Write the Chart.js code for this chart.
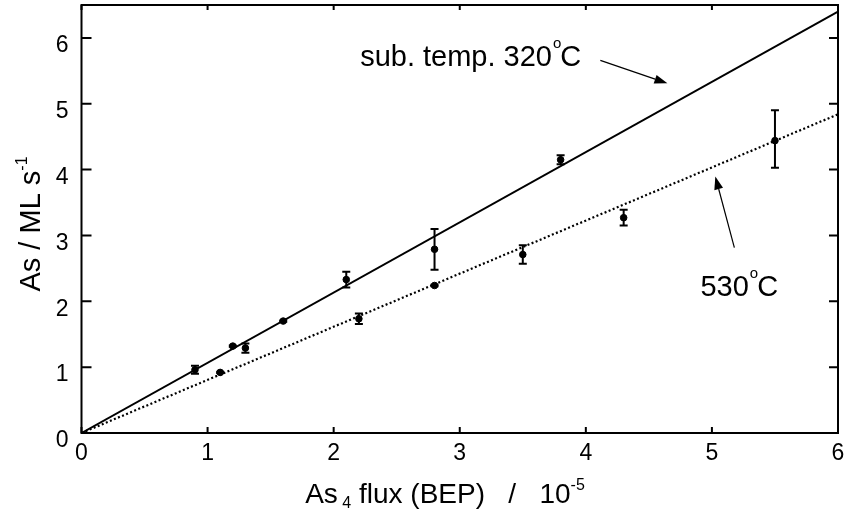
<!DOCTYPE html>
<html><head><meta charset="utf-8">
<script src="https://cdn.jsdelivr.net/npm/chart.js@4/dist/chart.umd.min.js"></script>
<style>html,body{margin:0;padding:0;background:#fff}</style>
</head><body>
<canvas id="c" width="846" height="511"></canvas>
<script>
// ---- data ----
const xTicks = [0, 1, 2, 3, 4, 5, 6];
const yTicks = [0, 1, 2, 3, 4, 5, 6];
const flux320 = [0.9, 1.2, 1.3, 1.6, 2.1, 2.8, 3.8];
const rate320 = [0.96, 1.32, 1.29, 1.70, 2.33, 2.79, 4.15];
const errMinus320 = [0.06, 0.01, 0.07, 0.01, 0.12, 0.31, 0.07];
const errPlus320  = [0.06, 0.01, 0.07, 0.01, 0.12, 0.31, 0.07];
const flux530 = [1.1, 2.2, 2.8, 3.5, 4.3, 5.5];
const rate530 = [0.92, 1.735, 2.24, 2.71, 3.27, 4.44];
const errMinus530 = [0.01, 0.08, 0.01, 0.14, 0.12, 0.41];
const errPlus530  = [0.01, 0.08, 0.01, 0.14, 0.12, 0.46];
const fitFlux = [0, 6];
const fit320 = [0, 6.40];
const fit530 = [0, 4.84];
const label320 = 'sub. temp. 320';
const label530 = '530';

// ---- annotation placement (data units) ----
const notes = {
  t320: {x: 2.21, y: 5.57},
  t530: {x: 4.909, y: 2.085},
  a320: {x0: 4.115, y0: 5.66, x1: 4.647, y1: 5.31},
  a530: {x0: 5.178, y0: 2.816, x1: 5.027, y1: 3.896}
};

const FONT = '"Liberation Sans", Arial, Helvetica, sans-serif';
const pts = (xs, ys) => xs.map((x, i) => ({x: x, y: ys[i]}));

const errorBars = {
  id: 'errorBars',
  afterDatasetsDraw(chart) {
    const ctx = chart.ctx, xs = chart.scales.x, ys = chart.scales.y;
    ctx.save();
    ctx.strokeStyle = '#000';
    ctx.lineWidth = 2;
    chart.data.datasets.forEach(ds => {
      if (!ds.errMinus) return;
      ds.data.forEach((p, i) => {
        const px = xs.getPixelForValue(p.x);
        const top = ys.getPixelForValue(p.y + ds.errPlus[i]);
        const bot = ys.getPixelForValue(p.y - ds.errMinus[i]);
        ctx.beginPath();
        ctx.moveTo(px, top); ctx.lineTo(px, bot);
        ctx.moveTo(px - 4, top); ctx.lineTo(px + 4, top);
        ctx.moveTo(px - 4, bot); ctx.lineTo(px + 4, bot);
        ctx.stroke();
      });
    });
    ctx.restore();
  }
};

function arrow(ctx, x0, y0, x1, y1) {
  const ang = Math.atan2(y1 - y0, x1 - x0);
  const L = 13, W = 4.5;
  const bx = x1 - L * Math.cos(ang), by = y1 - L * Math.sin(ang);
  ctx.beginPath();
  ctx.moveTo(x0, y0); ctx.lineTo(bx, by); ctx.stroke();
  ctx.beginPath();
  ctx.moveTo(x1, y1);
  ctx.lineTo(bx + W * Math.sin(ang), by - W * Math.cos(ang));
  ctx.lineTo(bx - W * Math.sin(ang), by + W * Math.cos(ang));
  ctx.closePath(); ctx.fill();
}

function degText(ctx, txt, x, y, size) {
  ctx.font = size + 'px ' + FONT;
  ctx.textBaseline = 'alphabetic';
  ctx.textAlign = 'left';
  ctx.fillText(txt, x, y);
  let w = ctx.measureText(txt).width;
  ctx.font = Math.round(size * 0.5) + 'px ' + FONT;
  ctx.fillText('o', x + w + 1, y - size * 0.62);
  const ow = ctx.measureText('o').width;
  ctx.font = size + 'px ' + FONT;
  ctx.fillText('C', x + w + ow, y);
}

const decor = {
  id: 'decor',
  afterDraw(chart) {
    const ctx = chart.ctx, a = chart.chartArea, xs = chart.scales.x, ys = chart.scales.y;
    ctx.save();
    // frame
    ctx.strokeStyle = '#000'; ctx.lineWidth = 2;
    ctx.strokeRect(a.left, a.top, a.right - a.left, a.bottom - a.top);
    // inward ticks
    ctx.beginPath();
    xTicks.forEach(v => {
      const px = xs.getPixelForValue(v);
      ctx.moveTo(px, a.bottom); ctx.lineTo(px, a.bottom - 6);
      ctx.moveTo(px, a.top); ctx.lineTo(px, a.top + 5);
    });
    yTicks.forEach(v => {
      const py = ys.getPixelForValue(v);
      ctx.moveTo(a.left, py); ctx.lineTo(a.left + 10, py);
      ctx.moveTo(a.right, py); ctx.lineTo(a.right - 9, py);
    });
    ctx.stroke();
    // annotations
    ctx.fillStyle = '#000';
    degText(ctx, label320, xs.getPixelForValue(notes.t320.x), ys.getPixelForValue(notes.t320.y), 29);
    degText(ctx, label530, xs.getPixelForValue(notes.t530.x), ys.getPixelForValue(notes.t530.y), 29);
    ctx.lineWidth = 1.2;
    [notes.a320, notes.a530].forEach(n => arrow(ctx,
      xs.getPixelForValue(n.x0), ys.getPixelForValue(n.y0),
      xs.getPixelForValue(n.x1), ys.getPixelForValue(n.y1)));
    // x axis title
    const big = 28, small = 16;
    const parts = [['As', big, 0], [' 4', small, 5], [' flux (BEP)   /   10', big, 0], ['-5', small, -13]];
    let total = 0;
    parts.forEach(p => { ctx.font = p[1] + 'px ' + FONT; total += ctx.measureText(p[0]).width; });
    let x = 445 - total / 2;
    const base = 503;
    ctx.textBaseline = 'alphabetic'; ctx.textAlign = 'left';
    parts.forEach(p => { ctx.font = p[1] + 'px ' + FONT; ctx.fillText(p[0], x, base + p[2]); x += ctx.measureText(p[0]).width; });
    // y axis title
    ctx.save();
    ctx.translate(40, 224);
    ctx.rotate(-Math.PI / 2);
    const yparts = [['As / ML s', 29, 0], ['-1', 16, -13]];
    let yt = 0;
    yparts.forEach(p => { ctx.font = p[1] + 'px ' + FONT; yt += ctx.measureText(p[0]).width; });
    let yx = -yt / 2;
    yparts.forEach(p => { ctx.font = p[1] + 'px ' + FONT; ctx.fillText(p[0], yx, p[2]); yx += ctx.measureText(p[0]).width; });
    ctx.restore();
    ctx.restore();
  }
};

const noPad = s => { s.paddingLeft = 0; s.paddingRight = 0; s.paddingTop = 0; s.paddingBottom = 0; };

new Chart(document.getElementById('c'), {
  type: 'scatter',
  data: {
    datasets: [
      {label: 'fit 320', type: 'line', data: pts(fitFlux, fit320), borderColor: '#000', borderWidth: 2, pointRadius: 0, fill: false},
      {label: 'fit 530', type: 'line', data: pts(fitFlux, fit530), borderColor: '#000', borderWidth: 2.2, borderDash: [2, 2.4], pointRadius: 0, fill: false},
      {label: '320', data: pts(flux320, rate320), errMinus: errMinus320, errPlus: errPlus320, backgroundColor: '#000', borderColor: '#000', pointRadius: 3.3, pointStyle: 'circle'},
      {label: '530', data: pts(flux530, rate530), errMinus: errMinus530, errPlus: errPlus530, backgroundColor: '#000', borderColor: '#000', pointRadius: 3.3, pointStyle: 'circle'}
    ]
  },
  options: {
    responsive: false,
    animation: false,
    layout: {padding: {top: 5, right: 8, left: 0, bottom: 0}},
    plugins: {legend: {display: false}, tooltip: {enabled: false}},
    scales: {
      x: {
        type: 'linear', min: 0, max: 6,
        afterBuildTicks: s => { s.ticks = xTicks.map(v => ({value: v})); },
        grid: {display: false, drawTicks: false},
        border: {display: false},
        ticks: {color: '#000', font: {family: FONT, size: 23}, padding: 7, maxRotation: 0, autoSkip: false},
        afterFit: s => { s.height = 78; noPad(s); }
      },
      y: {
        type: 'linear', min: 0, max: 6.5,
        afterBuildTicks: s => { s.ticks = yTicks.map(v => ({value: v})); },
        grid: {display: false, drawTicks: false},
        border: {display: false},
        ticks: {color: '#000', font: {family: FONT, size: 23}, padding: 13, labelOffset: 8, autoSkip: false},
        afterFit: s => { s.width = 81.5; noPad(s); }
      }
    }
  },
  plugins: [errorBars, decor]
});
</script>
</body></html>
